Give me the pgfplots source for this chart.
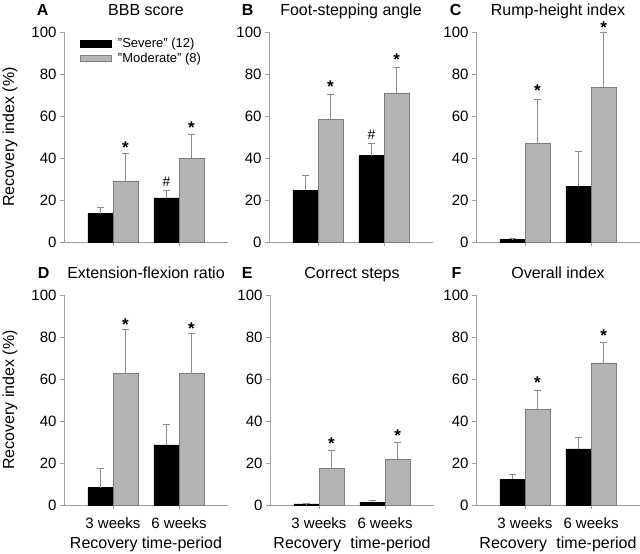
\documentclass[border=0pt]{standalone}
\usepackage{fontspec}
\setmainfont{Liberation Sans}
\usepackage{pgfplots}
\pgfplotsset{compat=1.18}
\definecolor{axgray}{RGB}{160,160,160}
\definecolor{bargray}{RGB}{180,180,180}
\definecolor{edgegray}{RGB}{125,125,125}
\definecolor{errgray}{RGB}{140,140,140}
\newcommand\tfont{\fontsize{16}{19}\selectfont}
\newcommand\lfont{\fontsize{16}{19}\selectfont\bfseries}
\newcommand\tickfont{\fontsize{15}{18}\selectfont}
\newcommand\starfont{\fontsize{17}{17}\selectfont\bfseries}
\newcommand\hashfont{\fontsize{14}{16}\selectfont}
\pgfplotsset{
  panel/.style={
    scale only axis, width=164pt, height=210pt,
    xmin=-0.742, xmax=1.742, ymin=0, ymax=100,
    ytick={0,20,40,60,80,100}, xtick={0,1},
    axis lines=left,
    axis line style={-, draw=axgray, line width=0.8pt},
    tick style={draw=axgray, line width=0.8pt},
    tick align=outside, major tick length=4pt,
    /pgf/number format/assume math mode=true,
    yticklabel style={font=\tickfont},
    xticklabel style={font=\tickfont, anchor=base, yshift=-20pt},
    xlabel style={font=\tfont, at={(axis description cs:0.5,0)}, anchor=base, yshift=-44pt},
    ylabel style={font=\tfont, at={(axis description cs:-0.33,0.5)}, anchor=center},
    title style={font=\tfont, at={(axis description cs:0.5,1)}, anchor=base, yshift=10pt},
    clip=false,
  },
  errstyle/.style={
    error bars/y dir=plus, error bars/y explicit,
    error bars/error bar style={draw=errgray, line width=0.8pt},
    error bars/error mark options={rotate=90, draw=errgray, line width=0.8pt, mark size=3.5pt}},
  blackbar/.style={ybar, bar width=0.379, bar shift=0, fill=black, draw=black, line width=0.6pt, errstyle},
  graybar/.style={ybar, bar width=0.379, bar shift=0, fill=bargray, draw=edgegray, line width=0.6pt, errstyle},
  sigstar/.style={draw=none, mark=none, nodes near coords, point meta=explicit symbolic,
    every node near coord/.append style={anchor=base, yshift=-9.5pt, inner sep=0pt, font=\starfont, text=black}},
  sighash/.style={draw=none, mark=none, nodes near coords, point meta=explicit symbolic,
    every node near coord/.append style={anchor=base, yshift=-5pt, inner sep=0pt, font=\hashfont, text=black}},
}
\begin{document}
\begin{tikzpicture}
\path[use as bounding box] (0,0) rectangle (640pt,554pt);
% A
\begin{axis}[panel, at={(64pt,312pt)}, anchor=south west, xticklabels={{},{}},
  ylabel={Recovery index (\%)}, title={BBB score},
  extra description/.code={\node[anchor=base east, font=\lfont] at (0,1) [xshift=-12pt, yshift=16pt] {A};},
  legend style={at={(axis description cs:0.08,0.99)}, anchor=north west, draw=none, fill=none,
    font=\fontsize{13}{15}\selectfont, row sep=0pt}, legend cell align=left]
\addplot[blackbar, legend image code/.code={\fill[black] (0pt,-3.5pt) rectangle (31pt,3.5pt); \path (35pt,0pt);}]
  coordinates {(-0.19,13.5) +- (0,3.1) (0.81,21.0) +- (0,3.5)};
\addlegendentry{"Severe" (12)}
\addplot[graybar, legend image code/.code={\filldraw[fill=bargray, draw=edgegray, line width=0.6pt] (0pt,-3pt) rectangle (31pt,3pt); \path (35pt,0pt);}]
  coordinates {(0.19,29.1) +- (0,13.1) (1.19,39.8) +- (0,11.5)};
\addlegendentry{"Moderate" (8)}
\addplot[sigstar, forget plot] coordinates {(0.19,46.7) [*] (1.19,56.0) [*]};
\addplot[sighash, forget plot] coordinates {(0.81,29.0) [\#]};
\end{axis}
% B
\begin{axis}[panel, at={(269pt,312pt)}, anchor=south west, xticklabels={{},{}},
  title={Foot-stepping angle},
  extra description/.code={\node[anchor=base east, font=\lfont] at (0,1) [xshift=-12pt, yshift=16pt] {B};}]
\addplot[blackbar] coordinates {(-0.19,24.6) +- (0,7.0) (0.81,41.1) +- (0,6.0)};
\addplot[graybar] coordinates {(0.19,58.3) +- (0,12.2) (1.19,71.0) +- (0,12.2)};
\addplot[sigstar] coordinates {(0.19,75.7) [*] (1.19,88.7) [*]};
\addplot[sighash] coordinates {(0.81,51.0) [\#]};
\end{axis}
% C
\begin{axis}[panel, at={(476pt,312pt)}, anchor=south west, xticklabels={{},{}},
  title={Rump-height index},
  extra description/.code={\node[anchor=base east, font=\lfont] at (0,1) [xshift=-11pt, yshift=16pt] {C};}]
\addplot[blackbar] coordinates {(-0.19,1.3) +- (0,0.3) (0.81,26.5) +- (0,16.8)};
\addplot[graybar] coordinates {(0.19,46.8) +- (0,21.3) (1.19,73.8) +- (0,26.2)};
\addplot[sigstar] coordinates {(0.19,73.8) [*] (1.19,104.0) [*]};
\end{axis}
% D
\begin{axis}[panel, at={(64pt,49pt)}, anchor=south west,
  xticklabels={3 weeks, 6 weeks}, xlabel={Recovery time-period},
  ylabel={Recovery index (\%)}, title={Extension-flexion ratio},
  extra description/.code={\node[anchor=base east, font=\lfont] at (0,1) [xshift=-11pt, yshift=16pt] {D};}]
\addplot[blackbar] coordinates {(-0.19,8.2) +- (0,9.2) (0.81,28.6) +- (0,9.8)};
\addplot[graybar] coordinates {(0.19,62.5) +- (0,21.0) (1.19,62.5) +- (0,19.0)};
\addplot[sigstar] coordinates {(0.19,87.8) [*] (1.19,85.9) [*]};
\end{axis}
% E
\begin{axis}[panel, at={(270pt,49pt)}, anchor=south west,
  xticklabels={3 weeks, 6 weeks}, xlabel={Recovery\hspace{5pt} time-period},
  title={Correct steps},
  extra description/.code={\node[anchor=base east, font=\lfont] at (0,1) [xshift=-14pt, yshift=16pt] {E};}]
\addplot[blackbar] coordinates {(-0.19,0.5) +- (0,0.2) (0.81,1.3) +- (0,1.1)};
\addplot[graybar] coordinates {(0.19,17.4) +- (0,8.4) (1.19,21.7) +- (0,8.2)};
\addplot[sigstar] coordinates {(0.19,30.9) [*] (1.19,34.8) [*]};
\end{axis}
% F
\begin{axis}[panel, at={(476pt,49pt)}, anchor=south west,
  xticklabels={3 weeks, 6 weeks}, xlabel={Recovery\hspace{5pt} time-period},
  title={Overall index},
  extra description/.code={\node[anchor=base east, font=\lfont] at (0,1) [xshift=-11pt, yshift=16pt] {F};}]
\addplot[blackbar] coordinates {(-0.19,12.2) +- (0,2.4) (0.81,26.7) +- (0,5.4)};
\addplot[graybar] coordinates {(0.19,45.7) +- (0,8.7) (1.19,67.7) +- (0,9.5)};
\addplot[sigstar] coordinates {(0.19,59.8) [*] (1.19,82.6) [*]};
\end{axis}
\end{tikzpicture}
\end{document}
